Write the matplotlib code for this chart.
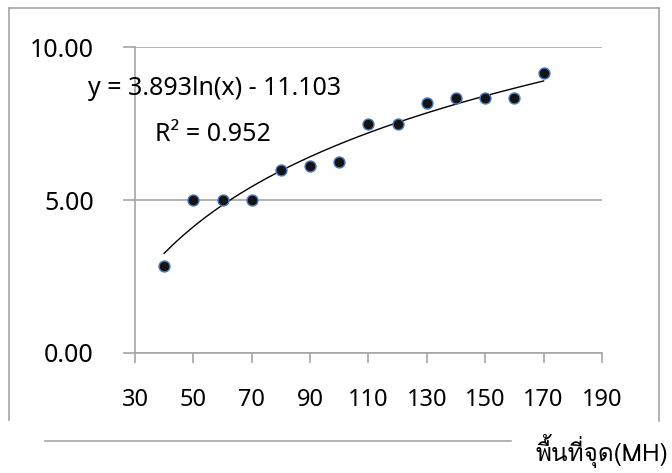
import matplotlib
matplotlib.use('Agg')
import matplotlib.pyplot as plt
from matplotlib import font_manager
from matplotlib.ft2font import FT2Font
from matplotlib.lines import Line2D
import numpy as np

# data
area = [40, 50, 60, 70, 80, 90, 100, 110, 120, 130, 140, 150, 160, 170]
values = [2.83, 5.0, 5.0, 5.0, 5.98, 6.1, 6.24, 7.48, 7.48, 8.17, 8.33, 8.33, 8.33, 9.15]
x_ticks = [30, 50, 70, 90, 110, 130, 150, 170, 190]
y_ticks = [0, 5, 10]
fit_a = 3.893
fit_b = -11.103
eq_text = "y = 3.893ln(x) - 11.103"
r2_text = "R² = 0.952"
x_label = "พื้นที่จุด(MH)"

# find a font that has thai glyphs
thai_font = None
for f in font_manager.fontManager.ttflist:
    try:
        if 0x0E1E in FT2Font(f.fname).get_charmap():
            thai_font = f.name
            break
    except Exception:
        pass

plt.rcParams['font.family'] = ['Noto Sans', 'DejaVu Sans']
gray = '#a6a6a6'

fig = plt.figure(figsize=(6.72, 4.73), dpi=100)
ax = fig.add_axes([0.2009, 0.2537, 0.6949, 0.6469])

ax.scatter(area, values, s=62, color='#141414', edgecolors='#4a78c8', linewidths=1.0, zorder=3)

xs = np.linspace(min(area), max(area), 200)
ax.plot(xs, fit_a * np.log(xs) + fit_b, color='black', linewidth=1.0, zorder=2)

ax.set_xlim(30, 190)
ax.set_ylim(0, 10)
ax.set_xticks(x_ticks)
ax.set_yticks(y_ticks)
ax.set_yticklabels(['%.2f' % v for v in y_ticks])
ax.yaxis.grid(True, color=gray, linewidth=1.2)
ax.set_axisbelow(True)

for s in ['top', 'right']:
    ax.spines[s].set_visible(False)
for s in ['left', 'bottom']:
    ax.spines[s].set_color(gray)
    ax.spines[s].set_linewidth(1.2)
ax.tick_params(axis='y', length=8.6, width=1.2, color=gray, pad=21, labelsize=18, labelcolor='black')
ax.tick_params(axis='x', length=7.5, width=1.2, color=gray, pad=18, labelsize=17, labelcolor='black')

ax.text(13.9, 8.66, eq_text, fontsize=18, va='center', ha='left', clip_on=False, zorder=4)
ax.text(36.8, 7.15, r2_text, fontsize=18, va='center', ha='left', clip_on=False, zorder=4)

# outer frame bits
fig.add_artist(Line2D([0.0134, 0.9807], [0.983, 0.983], color=gray, linewidth=1.2))
fig.add_artist(Line2D([0.0134, 0.0134], [0.983, 0.112], color=gray, linewidth=1.2))
fig.add_artist(Line2D([0.9807, 0.9807], [0.983, 0.110], color=gray, linewidth=1.2))
fig.add_artist(Line2D([0.067, 0.760], [0.0677, 0.0677], color=gray, linewidth=1.2))

fams = [thai_font, 'Noto Sans', 'DejaVu Sans'] if thai_font else ['Noto Sans', 'DejaVu Sans']
fig.text(0.994, 0.046, x_label, fontsize=17.5, ha='right', va='center', family=fams)

fig.savefig('out.png', dpi=100)
